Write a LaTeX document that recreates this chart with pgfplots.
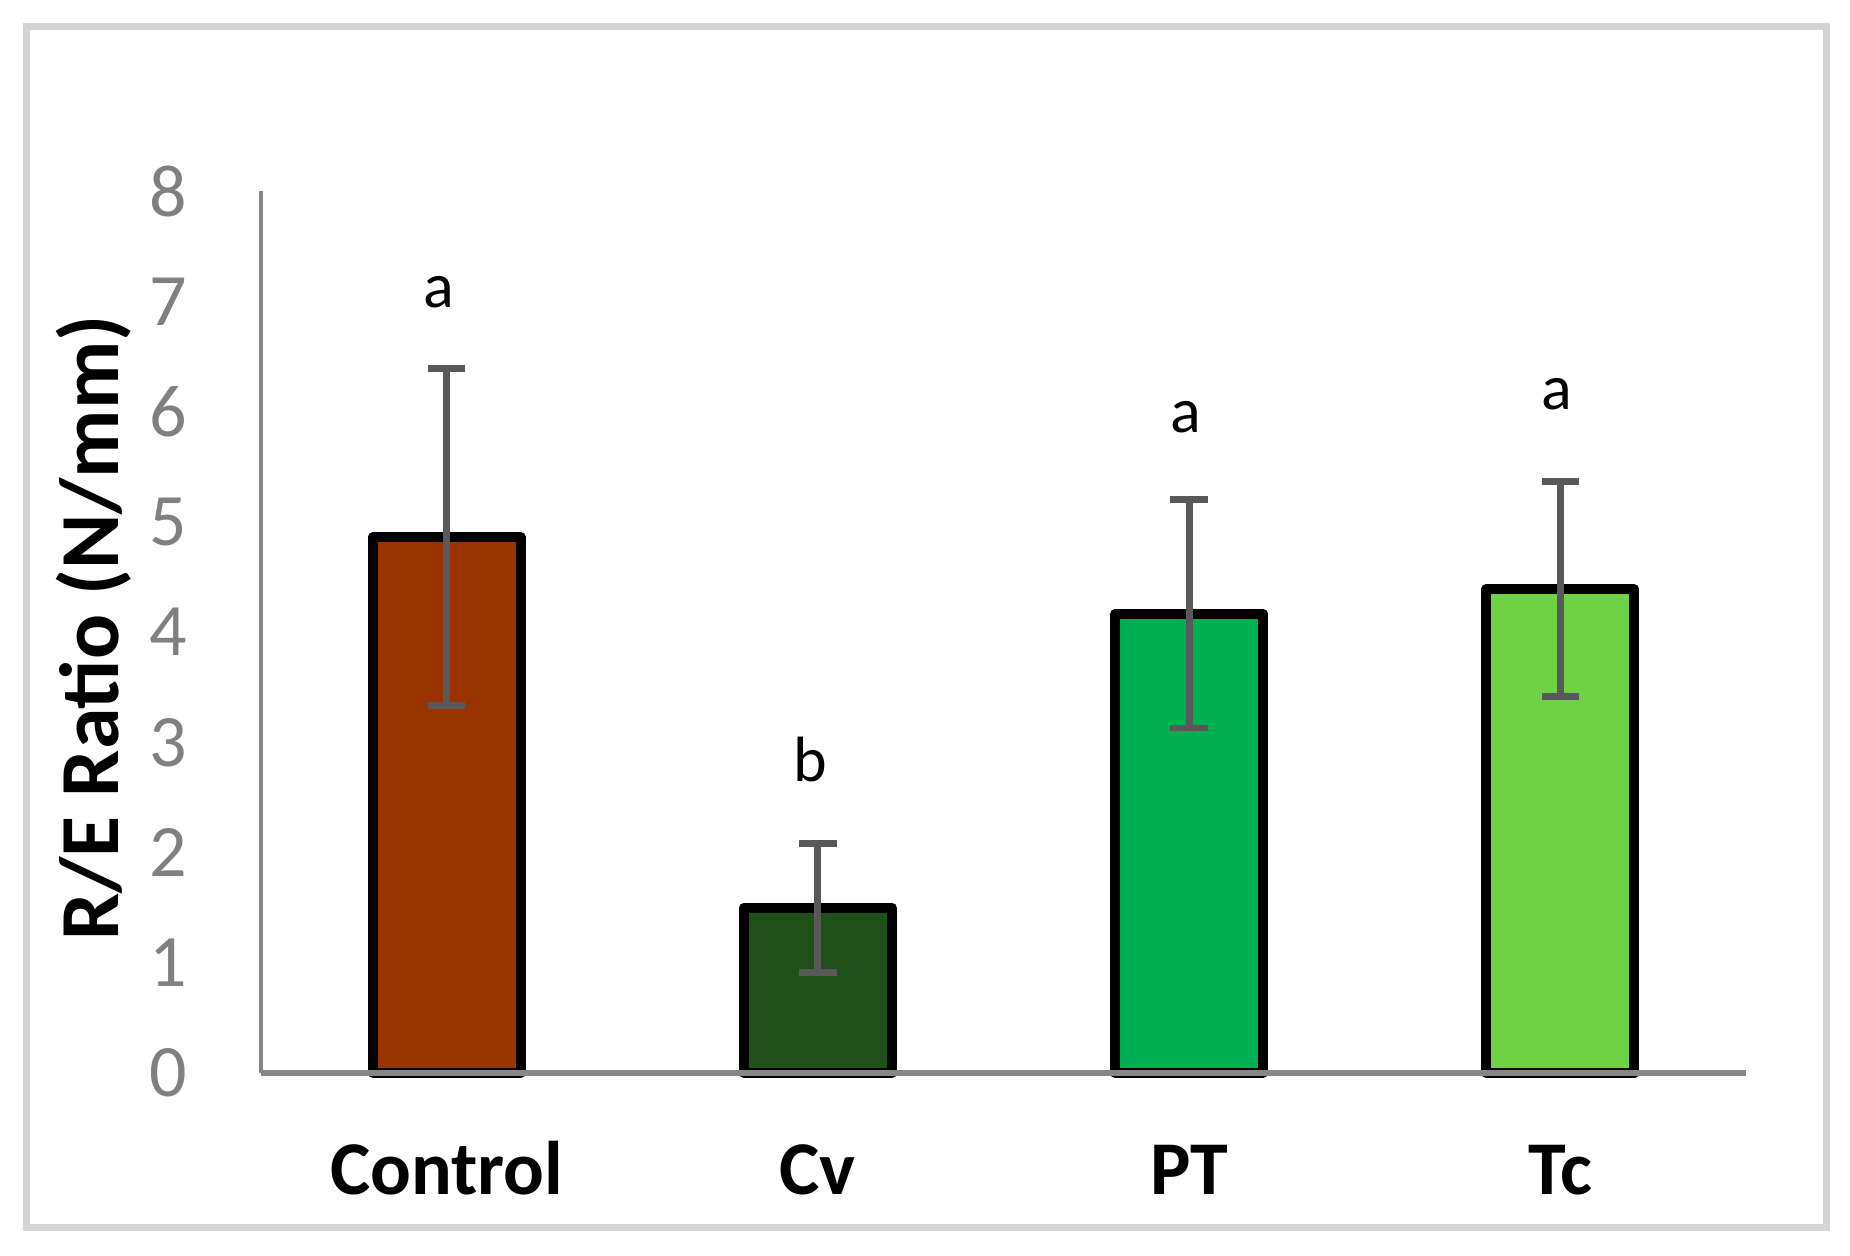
\documentclass[border=0pt]{standalone}
\usepackage{fontspec}
\setmainfont{Carlito}
\usepackage{pgfplots}
\pgfplotsset{compat=1.18}
\definecolor{ctrl}{HTML}{993300}
\definecolor{cvc}{HTML}{1F5019}
\definecolor{ptc}{HTML}{00B050}
\definecolor{tcc}{HTML}{6FD244}
\definecolor{axgrey}{HTML}{868686}
\definecolor{tickgrey}{HTML}{808080}
\definecolor{errgrey}{HTML}{595959}
\definecolor{framegrey}{HTML}{D4D4D4}
\pgfplotsset{mybar/.style={draw=black, line width=2.5pt, line join=round,
    error bars/y dir=both, error bars/y explicit,
    error bars/error bar style={errgrey, line width=1.7pt},
    error bars/error mark options={rotate=90, errgrey, line width=1.7pt, mark size=4.7pt}}}
\begin{document}
\begin{tikzpicture}
\useasboundingbox (-65.25pt,-45.5pt) rectangle (397.25pt,268.25pt);
\draw[framegrey, line width=1.75pt] (-58.5pt,-38.5pt) rectangle (391.25pt,261.5pt);
\begin{axis}[
  at={(0pt,0pt)}, anchor=south west,
  scale only axis, width=371.25pt, height=220.5pt,
  xmin=-0.5, xmax=3.5, ymin=0, ymax=8,
  axis x line=bottom, axis y line=left,
  axis line style={-},
  x axis line style={axgrey, line width=1.7pt},
  y axis line style={axgrey, line width=1.2pt},
  xtick={0,1,2,3}, xticklabels={Control,Cv,PT,Tc},
  ytick={0,1,...,8},
  major tick length=0pt,
  xticklabel style={font=\bfseries\fontsize{19}{22}\selectfont, anchor=base, yshift=-30.25pt},
  yticklabel style={font=\fontsize{18.5}{20}\selectfont, text=tickgrey, anchor=east, inner sep=0pt, xshift=-18.25pt},
  /pgf/number format/assume math mode=true,
  axis on top,
  ybar, bar width=37pt, bar shift=0pt,
  clip=false,
]
\addplot[mybar, fill=ctrl] coordinates {(0,4.86) +- (0,1.53)};
\addplot[mybar, fill=cvc] coordinates {(1,1.50) +- (0,0.585)};
\addplot[mybar, fill=ptc] coordinates {(2,4.165) +- (0,1.035)};
\addplot[mybar, fill=tcc] coordinates {(3,4.39) +- (0,0.975)};
\node[anchor=base, font=\fontsize{16}{18}\selectfont] at (axis cs:-0.02,6.94) {a};
\node[anchor=base, font=\fontsize{16}{18}\selectfont] at (axis cs:0.98,2.64) {b};
\node[anchor=base, font=\fontsize{16}{18}\selectfont] at (axis cs:1.99,5.81) {a};
\node[anchor=base, font=\fontsize{16}{18}\selectfont] at (axis cs:2.99,6.02) {a};
\end{axis}
\node[rotate=90, font=\bfseries\fontsize{21}{25}\selectfont] at (-41.75pt,111.25pt) {R/E Ratio (N/mm)};
\end{tikzpicture}
\end{document}
